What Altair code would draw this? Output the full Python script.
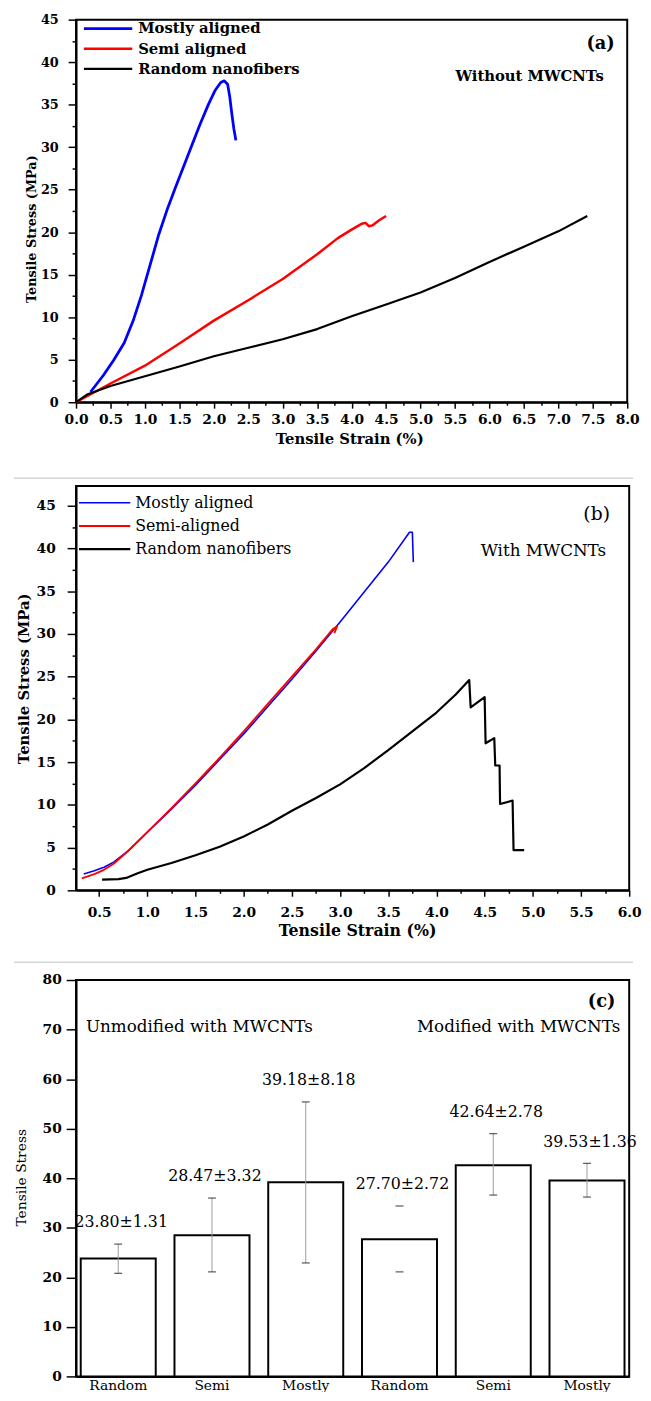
import altair as alt
import pandas as pd

FONT = "DejaVu Serif"
COLORS = ["#0000ff", "#ff0000", "#000000"]

# ---------------- Panel (a): without MWCNTs ----------------
A_NAMES = ["Mostly aligned", "Semi aligned", "Random nanofibers"]
A_MOSTLY_X = [0.21, 0.40, 0.55, 0.70, 0.83, 0.95, 1.07, 1.20, 1.32, 1.44, 1.56, 1.68, 1.80, 1.92, 2.02, 2.10, 2.15, 2.20, 2.23, 2.26, 2.29, 2.32]
A_MOSTLY_Y = [1.2, 3.2, 5.0, 7.0, 9.6, 12.6, 16.0, 19.7, 22.6, 25.2, 27.7, 30.2, 32.7, 35.0, 36.7, 37.6, 37.8, 37.4, 36.0, 34.0, 32.2, 30.8]
A_SEMI_X = [0.0, 0.5, 1.0, 1.5, 2.0, 2.5, 3.0, 3.5, 3.8, 4.0, 4.15, 4.2, 4.25, 4.3, 4.4, 4.5]
A_SEMI_Y = [0.0, 2.2, 4.3, 6.9, 9.6, 12.0, 14.5, 17.4, 19.3, 20.3, 21.0, 21.1, 20.7, 20.8, 21.4, 21.9]
A_RANDOM_X = [0.0, 0.16, 0.5, 1.0, 1.5, 2.0, 2.5, 3.0, 3.5, 4.0, 4.5, 5.0, 5.5, 6.0, 6.5, 7.0, 7.42]
A_RANDOM_Y = [0.0, 0.9, 1.9, 3.05, 4.2, 5.4, 6.4, 7.4, 8.6, 10.1, 11.5, 12.9, 14.6, 16.5, 18.3, 20.1, 21.9]
A_TAG = ["(a)"]
A_NOTE = ["Without MWCNTs"]

# ---------------- Panel (b): with MWCNTs ----------------
B_NAMES = ["Mostly aligned", "Semi-aligned", "Random nanofibers"]
B_MOSTLY_X = [0.34, 0.45, 0.55, 0.65, 0.80, 1.00, 1.25, 1.50, 1.75, 2.00, 2.25, 2.50, 2.75, 3.00, 3.25, 3.50, 3.72, 3.75, 3.76]
B_MOSTLY_Y = [1.9, 2.3, 2.7, 3.3, 4.6, 6.8, 9.5, 12.3, 15.3, 18.3, 21.5, 24.7, 28.0, 31.4, 34.9, 38.4, 41.9, 41.9, 38.4]
B_SEMI_X = [0.32, 0.45, 0.55, 0.65, 0.80, 1.00, 1.25, 1.50, 1.75, 2.00, 2.25, 2.50, 2.75, 2.92, 2.97, 2.94]
B_SEMI_Y = [1.4, 1.9, 2.4, 3.1, 4.6, 6.8, 9.6, 12.5, 15.5, 18.6, 21.8, 25.0, 28.2, 30.5, 30.9, 30.1]
B_RANDOM_X = [0.53, 0.70, 0.78, 0.90, 1.00, 1.25, 1.50, 1.75, 2.00, 2.25, 2.50, 2.75, 3.00, 3.25, 3.50, 3.75, 4.00, 4.20, 4.34, 4.355, 4.50, 4.51, 4.60, 4.61, 4.655, 4.66, 4.79, 4.80, 4.91]
B_RANDOM_Y = [1.25, 1.3, 1.45, 2.0, 2.4, 3.2, 4.1, 5.1, 6.3, 7.7, 9.3, 10.8, 12.4, 14.3, 16.4, 18.6, 20.8, 22.9, 24.6, 21.4, 22.6, 17.2, 17.8, 14.6, 14.6, 10.1, 10.5, 4.7, 4.7]
B_TAG = ["(b)"]
B_NOTE = ["With MWCNTs"]

# ---------------- Panel (c): bar summary ----------------
C_KEYS = ["Random|u", "Semi|u", "Mostly|u", "Random|m", "Semi|m", "Mostly|m"]
C_MEAN = [23.80, 28.47, 39.18, 27.70, 42.64, 39.53]
C_LOW = [20.8, 21.1, 22.9, 21.1, 36.6, 36.2]
C_HIGH = [26.7, 36.0, 55.4, 34.4, 49.0, 43.0]
C_TEXT = ["23.80±1.31", "28.47±3.32", "39.18±8.18", "27.70±2.72", "42.64±2.78", "39.53±1.36"]
C_TAG = ["(c)"]
C_LEFT_NOTE = ["Unmodified with MWCNTs"]
C_RIGHT_NOTE = ["Modified with MWCNTs"]


def curves(names, xs_list, ys_list):
    rows = []
    for name, xs, ys in zip(names, xs_list, ys_list):
        for i, (x, y) in enumerate(zip(xs, ys)):
            rows.append({"series": name, "strain": x, "stress": y, "idx": i})
    return pd.DataFrame(rows)


def lin_axis(values, test, fmt, title, lab_size, lab_weight, title_size, title_weight,
             major, minor, lab_pad, title_x, title_y):
    return alt.Axis(
        values=values, format=fmt, title=title,
        labelExpr=f"({test}) ? datum.label : ''",
        tickSize={"condition": {"test": test, "value": major}, "value": minor},
        labelFont=FONT, labelFontSize=lab_size, labelFontWeight=lab_weight, labelColor="black",
        labelPadding=lab_pad, labelFlush=False, labelOverlap=False,
        titleFont=FONT, titleFontSize=title_size, titleFontWeight=title_weight, titleColor="black",
        titleX=title_x, titleY=title_y, titleAlign="center", titleBaseline="middle",
        domainColor="black", domainWidth=2, tickColor="black", tickWidth=1.5, grid=False,
    )


def note(text_list, x, y, size, weight, align="center"):
    return alt.Chart(pd.DataFrame({"t": text_list})).mark_text(
        font=FONT, fontSize=size, fontWeight=weight, align=align, baseline="middle", color="black"
    ).encode(x=alt.value(x), y=alt.value(y), text="t:N")


def spacer(x, x2, y, color="white", width=1):
    return alt.Chart(pd.DataFrame({"k": [0]})).mark_rule(color=color, strokeWidth=width).encode(
        x=alt.value(x), x2=alt.value(x2), y=alt.value(y))


HALF = "abs(datum.value*2 - round(datum.value*2)) < 0.001"
FIVE = "abs(datum.value/5 - round(datum.value/5)) < 0.001"
TEN = "abs(datum.value/10 - round(datum.value/10)) < 0.001"

# ================= Panel (a) =================
W_A, H_A = 559, 388
df_a = curves(A_NAMES, [A_MOSTLY_X, A_SEMI_X, A_RANDOM_X], [A_MOSTLY_Y, A_SEMI_Y, A_RANDOM_Y])
color_a = alt.Color("series:N", scale=alt.Scale(domain=A_NAMES, range=COLORS), legend=None)
sw_a = alt.StrokeWidth("series:N", scale=alt.Scale(domain=A_NAMES, range=[2.8, 2.2, 1.8]), legend=None)
xa = alt.X("strain:Q", scale=alt.Scale(domain=[0, 8], nice=False, zero=False),
           axis=lin_axis([i * 0.25 for i in range(33)], HALF, ".1f", "Tensile Strain (%)",
                         14, "bold", 15, "bold", 6, 3, 5, 277, 37))
ya = alt.Y("stress:Q", scale=alt.Scale(domain=[0, 45], nice=False),
           axis=lin_axis([i * 2.5 for i in range(19)], FIVE, "d", "Tensile Stress (MPa)",
                         13, "bold", 13, "bold", 8, 4, 10, -45, 212))
lines_a = alt.Chart(df_a).mark_line(strokeJoin="round").encode(
    x=xa, y=ya, color=color_a, strokeWidth=sw_a, order="idx:Q")
leg_a = pd.DataFrame({"series": A_NAMES, "rank": [0, 1, 2]})
ly_a = alt.Y("rank:Q", scale=alt.Scale(domain=[0, 2], range=[9, 50]), axis=None)
leg_rule_a = alt.Chart(leg_a).mark_rule().encode(
    x=alt.value(8), x2=alt.value(57), y=ly_a, color=color_a, strokeWidth=sw_a)
leg_text_a = alt.Chart(leg_a).mark_text(
    align="left", baseline="middle", font=FONT, fontSize=15, fontWeight="bold", color="black"
).encode(x=alt.value(63), y=ly_a, text="series:N")
panel_a = alt.layer(
    lines_a, leg_rule_a, leg_text_a,
    note(A_TAG, 532, 25, 18, "bold"), note(A_NOTE, 460, 57, 15, "bold"),
    spacer(-63, -62, H_A / 2), spacer(200, 201, 451),
).resolve_scale(y="independent").properties(width=W_A, height=H_A)

# ================= Panel (b) =================
W_B, H_B = 561, 410
df_b = curves(B_NAMES, [B_MOSTLY_X, B_SEMI_X, B_RANDOM_X], [B_MOSTLY_Y, B_SEMI_Y, B_RANDOM_Y])
color_b = alt.Color("series:N", scale=alt.Scale(domain=B_NAMES, range=COLORS), legend=None)
sw_b = alt.StrokeWidth("series:N", scale=alt.Scale(domain=B_NAMES, range=[1.6, 2.2, 2.0]), legend=None)
xb = alt.X("strain:Q", scale=alt.Scale(domain=[0.26, 6.0], nice=False, zero=False),
           axis=lin_axis([0.25 * i for i in range(2, 25)], HALF, ".1f", "Tensile Strain (%)",
                         14, "bold", 16, "bold", 6, 3, 10, 285, 41))
yb = alt.Y("stress:Q", scale=alt.Scale(domain=[0, 47.3], nice=False),
           axis=lin_axis([i * 2.5 for i in range(19)], FIVE, "d", "Tensile Stress (MPa)",
                         14, "bold", 15, "bold", 9, 4, 12, -53, 195))
lines_b = alt.Chart(df_b).mark_line(strokeJoin="round").encode(
    x=xb, y=yb, color=color_b, strokeWidth=sw_b, order="idx:Q")
leg_b = pd.DataFrame({"series": B_NAMES, "rank": [0, 1, 2]})
ly_b = alt.Y("rank:Q", scale=alt.Scale(domain=[0, 2], range=[17, 64]), axis=None)
leg_rule_b = alt.Chart(leg_b).mark_rule().encode(
    x=alt.value(3), x2=alt.value(55), y=ly_b, color=color_b, strokeWidth=sw_b)
leg_text_b = alt.Chart(leg_b).mark_text(
    align="left", baseline="middle", font=FONT, fontSize=16, color="black"
).encode(x=alt.value(60), y=ly_b, text="series:N")
panel_b = alt.layer(
    spacer(-63, 565, -8, "#d6d6d6", 1.5),
    lines_b, leg_rule_b, leg_text_b,
    note(B_TAG, 528, 28, 19, "normal"), note(B_NOTE, 474, 66, 17, "normal"),
    spacer(200, 201, 469),
).resolve_scale(y="independent").properties(width=W_B, height=H_B)

# ================= Panel (c) =================
W_C, H_C = 561, 402
df_c = pd.DataFrame({"key": C_KEYS, "mean": C_MEAN, "low": C_LOW, "high": C_HIGH,
                     "label": C_TEXT, "idx": list(range(len(C_KEYS)))})
xc = alt.X("key:N", sort=C_KEYS, scale=alt.Scale(paddingInner=0.2, paddingOuter=0.05),
           axis=alt.Axis(title=None, labelExpr="split(datum.label, '|')[0]", labelAngle=0,
                         ticks=False, labelFont=FONT, labelFontSize=14, labelColor="black",
                         labelPadding=2, domainColor="black", domainWidth=2))
yc_axis = lin_axis([i * 5 for i in range(17)], TEN, "d", "Tensile Stress",
                   14, "bold", 14, "normal", 10, 5, 5, -55, 200)
yc = alt.Y("mean:Q", scale=alt.Scale(domain=[0, 80], nice=False), axis=yc_axis)
base_c = alt.Chart(df_c).encode(x=xc)
bars_c = base_c.mark_bar(fill="white", stroke="black", strokeWidth=2).encode(y=yc)
# the whisker line of the 4th bar is not visible in the source, only its caps
whisk_c = base_c.mark_rule(color="#9a9a9a", strokeWidth=1).encode(
    y="low:Q", y2="high:Q").transform_filter("datum.idx != 3")
cap_lo = base_c.mark_tick(size=8, thickness=1.3, color="#222222").encode(y="low:Q")
cap_hi = base_c.mark_tick(size=8, thickness=1.3, color="#222222").encode(y="high:Q")
lab_c = base_c.mark_text(font=FONT, fontSize=16, baseline="middle", dy=-22, dx=3, color="black").encode(
    y="high:Q", text="label:N")
panel_c = alt.layer(
    spacer(-63, 565, -18, "#d6d6d6", 1.5),
    bars_c, whisk_c, cap_lo, cap_hi, lab_c,
    note(C_TAG, 533, 22, 18, "bold"),
    note(C_LEFT_NOTE, 10, 48, 17, "normal", "left"),
    note(C_RIGHT_NOTE, 552, 48, 17, "normal", "right"),
).properties(width=W_C, height=H_C)

chart = alt.vconcat(panel_a, panel_b, panel_c, spacing=10).resolve_scale(
    color="independent", strokeWidth="independent"
).properties(
    padding={"left": 4, "top": -5, "right": 0, "bottom": -11}
).configure(background="white").configure_view(stroke="black", strokeWidth=2)

chart.save("out.html", embed_options={"renderer": "svg", "actions": False})
